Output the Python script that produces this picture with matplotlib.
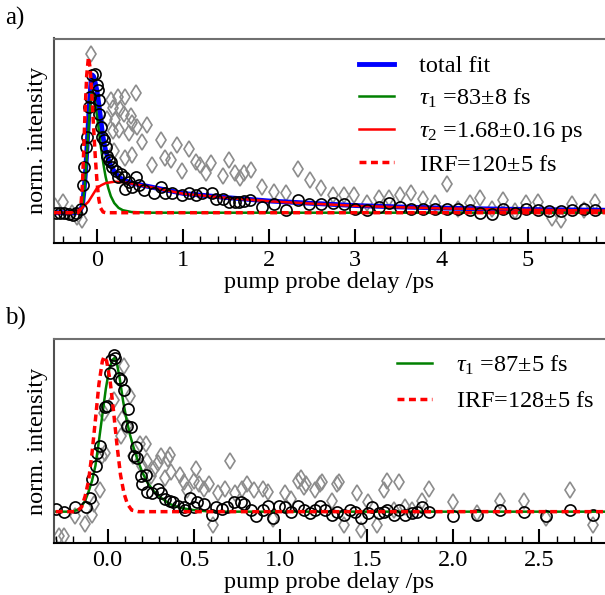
import numpy as np
import matplotlib
matplotlib.use("Agg")
import matplotlib.pyplot as plt
from matplotlib.ticker import MultipleLocator

plt.rcParams['font.family'] = ['Liberation Serif', 'DejaVu Serif']
plt.rcParams['mathtext.fontset'] = 'custom'
plt.rcParams['mathtext.rm'] = 'Liberation Serif'
plt.rcParams['mathtext.it'] = 'Liberation Serif:italic'
plt.rcParams['font.size'] = 17.5

# ---------------- panel a data ----------------
a_circ_x = [-0.48, -0.43, -0.38, -0.33, -0.28, -0.24, -0.185, -0.163, -0.151, -0.124,
            -0.116, -0.093, -0.085, -0.055, -0.023, 0.0, 0.01, 0.02, 0.025, 0.043,
            0.06, 0.08, 0.1, 0.12, 0.14, 0.16, 0.178, 0.22, 0.24, 0.28,
            0.31, 0.33, 0.37, 0.41, 0.457, 0.49, 0.547, 0.66, 0.74, 0.79,
            0.876, 0.99, 1.07, 1.15, 1.22, 1.34, 1.38, 1.46, 1.535, 1.6,
            1.65, 1.71, 1.78, 1.92, 2.05, 2.19, 2.33, 2.46, 2.6, 2.74,
            2.87, 3.0, 3.14, 3.27, 3.39, 3.52, 3.65, 3.79, 3.92, 4.06,
            4.19, 4.33, 4.45, 4.59, 4.72, 4.86, 4.98, 5.12, 5.25, 5.39,
            5.52, 5.66, 5.78]
a_circ_y = [0.0, 0.0, 0.0, -0.01, -0.02, 0.0, 0.03, 0.2, 0.33, 0.48,
            0.55, 0.77, 0.84, 1.0, 1.01, 0.93, 0.89, 0.82, 0.72, 0.62,
            0.55, 0.53, 0.48, 0.41, 0.38, 0.37, 0.33, 0.3, 0.26, 0.28,
            0.26, 0.17, 0.225, 0.19, 0.26, 0.2, 0.165, 0.14, 0.19, 0.14,
            0.14, 0.13, 0.14, 0.13, 0.14, 0.14, 0.1, 0.1, 0.08, 0.08,
            0.08, 0.085, 0.09, 0.045, 0.065, 0.02, 0.09, 0.065, 0.06, 0.07,
            0.06, 0.03, 0.02, 0.045, 0.07, 0.04, 0.03, 0.025, 0.03, 0.025,
            0.03, 0.02, 0.0, -0.01, 0.03, -0.005, 0.025, 0.02, 0.015, 0.01,
            0.02, 0.025, 0.02]

a_diam_x = [-0.49, -0.4, -0.29, -0.23, -0.17, -0.07, 0.12, 0.16, 0.18, 0.18,
            0.2, 0.21, 0.24, 0.26, 0.27, 0.31, 0.33, 0.33, 0.37, 0.39,
            0.41, 0.41, 0.45, 0.46, 0.52, 0.585, 0.64, 0.74, 0.79, 0.86,
            0.93, 0.99, 1.07, 1.15, 1.2, 1.26, 1.32, 1.46, 1.535, 1.6,
            1.66, 1.71, 1.79, 1.92, 2.05, 2.19, 2.33, 2.47, 2.6, 2.74,
            2.87, 2.98, 3.14, 3.27, 3.39, 3.52, 3.65, 3.79, 3.92, 4.07,
            4.19, 4.33, 4.45, 4.59, 4.72, 4.86, 4.98, 5.12, 5.28, 5.39,
            5.52, 5.66, 5.78]
a_diam_y = [0.05, 0.08, 0.0, -0.03, -0.05, 1.15, 0.68, 0.82, 0.76, 0.59,
            0.45, 0.67, 0.84, 0.6, 0.75, 0.72, 0.84, 0.4, 0.58, 0.7,
            0.65, 0.42, 0.87, 0.62, 0.51, 0.64, 0.35, 0.53, 0.4, 0.38,
            0.49, 0.3, 0.46, 0.37, 0.35, 0.29, 0.36, 0.27, 0.38, 0.29,
            0.25, 0.29, 0.31, 0.19, 0.15, 0.14, 0.32, 0.24, 0.18, 0.13,
            0.13, 0.13, 0.07, 0.11, 0.11, 0.13, 0.14, 0.1, 0.07, 0.21,
            0.03, 0.07, 0.11, 0.03, 0.09, 0.01, 0.07, 0.08, -0.04, -0.05,
            0.06, 0.02, 0.08]

a_fit_x = [-0.5, -0.25, -0.2, -0.17, -0.15, -0.13, -0.11, -0.09, -0.07, -0.055,
           -0.04, -0.02, 0.0, 0.02, 0.04, 0.06, 0.08, 0.1, 0.13, 0.16,
           0.2, 0.25, 0.3, 0.4, 0.6, 0.8, 1.0, 1.5, 2.0, 2.5,
           3.0, 3.5, 4.0, 4.5, 5.0, 5.5, 5.9]
a_fit_y = [0.0, 0.0, 0.01, 0.05, 0.17, 0.33, 0.55, 0.78, 0.95, 1.0,
           0.99, 0.94, 0.88, 0.79, 0.69, 0.59, 0.51, 0.45, 0.39, 0.34,
           0.3, 0.26, 0.24, 0.215, 0.19, 0.165, 0.14, 0.11, 0.085, 0.068,
           0.052, 0.042, 0.034, 0.028, 0.023, 0.02, 0.018]

a_tau1_x = [-0.5, -0.2, -0.17, -0.15, -0.13, -0.11, -0.09, -0.07, -0.055, -0.04,
            -0.02, 0.0, 0.02, 0.04, 0.06, 0.08, 0.1, 0.13, 0.16, 0.2,
            0.25, 0.3, 0.4, 0.6, 5.9]
a_tau1_y = [0.0, 0.0, 0.04, 0.15, 0.3, 0.5, 0.7, 0.84, 0.88, 0.86,
            0.79, 0.7, 0.6, 0.5, 0.41, 0.33, 0.26, 0.18, 0.12, 0.07,
            0.035, 0.018, 0.005, 0.0, 0.0]

a_tau2_x = [-0.5, -0.3, -0.2, -0.1, -0.05, 0.0, 0.05, 0.1, 0.2, 0.3,
            0.4, 0.6, 0.8, 1.0, 1.5, 2.0, 2.5, 3.0, 3.5, 4.0,
            4.5, 5.0, 5.5, 5.9]
a_tau2_y = [0.0, 0.0, 0.02, 0.08, 0.13, 0.18, 0.2, 0.215, 0.225, 0.222,
            0.212, 0.188, 0.163, 0.138, 0.108, 0.083, 0.066, 0.05, 0.04, 0.032,
            0.026, 0.021, 0.018, 0.016]

a_irf_x = [-0.5, -0.22, -0.19, -0.17, -0.155, -0.14, -0.12, -0.1, -0.08, -0.06,
           -0.04, -0.02, 0.0, 0.02, 0.04, 0.07, 0.1, 5.9]
a_irf_y = [0.0, 0.0, 0.03, 0.2, 0.45, 0.72, 1.0, 1.13, 1.05, 0.85,
           0.62, 0.4, 0.22, 0.1, 0.035, 0.005, 0.0, 0.0]

# ---------------- panel b data ----------------
b_circ_x = [-0.3, -0.253, -0.191, -0.122, -0.102, -0.089, -0.069, -0.06, -0.045, -0.012,
            -0.002, 0.013, 0.021, 0.037, 0.046, 0.066, 0.075, 0.094, 0.11, 0.118,
            0.133, 0.152, 0.162, 0.17, 0.191, 0.2, 0.22, 0.23, 0.26, 0.29,
            0.31, 0.33, 0.36, 0.38, 0.41, 0.44, 0.45, 0.48, 0.5, 0.52,
            0.56, 0.606, 0.63, 0.66, 0.69, 0.73, 0.77, 0.79, 0.83, 0.86,
            0.9, 0.93, 0.96, 0.99, 1.03, 1.06, 1.1, 1.14, 1.17, 1.2,
            1.23, 1.26, 1.3, 1.33, 1.37, 1.405, 1.435, 1.47, 1.51, 1.53,
            1.57, 1.6, 1.62, 1.66, 1.69, 1.72, 1.76, 1.79, 1.82, 1.86,
            2.0, 2.14, 2.27, 2.41, 2.54, 2.68, 2.81]
b_circ_y = [0.02, 0.0, 0.03, 0.03, 0.09, 0.21, 0.3, 0.38, 0.43, 0.68,
            0.69, 0.9, 0.99, 1.02, 1.0, 0.87, 0.86, 0.79, 0.56, 0.67,
            0.55, 0.36, 0.42, 0.35, 0.23, 0.18, 0.24, 0.13, 0.12, 0.15,
            0.12, 0.08, 0.07, 0.06, 0.04, 0.03, 0.01, 0.09, 0.03, 0.06,
            0.05, -0.02, 0.03, 0.02, 0.03, 0.06, 0.06, 0.05, 0.01, -0.03,
            0.01, 0.04, -0.04, 0.04, 0.03, 0.0, 0.04, 0.01, -0.01, 0.01,
            0.04, 0.01, -0.02, 0.0, -0.02, 0.01, 0.0, -0.04, -0.01, 0.03,
            -0.01, 0.0, 0.01, -0.02, 0.01, -0.02, -0.01, 0.0, 0.03, 0.0,
            -0.03, -0.02, 0.01, 0.0, -0.03, 0.01, -0.02]

b_diam_x = [-0.28, -0.25, -0.19, -0.13, -0.09, -0.08, -0.045, -0.03, -0.02, -0.012,
            0.04, 0.075, 0.084, 0.094, 0.11, 0.13, 0.15, 0.19, 0.2, 0.22,
            0.23, 0.25, 0.27, 0.29, 0.31, 0.33, 0.35, 0.36, 0.37, 0.42,
            0.44, 0.46, 0.5, 0.51, 0.53, 0.56, 0.59, 0.61, 0.64, 0.68,
            0.71, 0.74, 0.78, 0.81, 0.85, 0.9, 0.93, 0.96, 1.03, 1.06,
            1.1, 1.12, 1.14, 1.15, 1.2, 1.23, 1.24, 1.3, 1.33, 1.34,
            1.37, 1.445, 1.47, 1.51, 1.56, 1.6, 1.62, 1.66, 1.69, 1.72,
            1.76, 1.82, 1.86, 2.0, 2.14, 2.27, 2.41, 2.54, 2.68, 2.81]
b_diam_y = [-0.16, -0.16, -0.03, -0.08, -0.02, 0.05, 0.14, 0.36, 0.64, 0.38,
            0.73, 0.49, 0.6, 0.95, 0.56, 0.75, 0.36, 0.44, 0.3, 0.44,
            0.33, 0.23, 0.28, 0.32, 0.36, 0.22, 0.34, 0.37, 0.26, 0.24,
            0.19, 0.14, 0.2, 0.28, 0.18, 0.15, 0.18, -0.09, 0.12, 0.15,
            0.33, 0.12, 0.15, 0.18, 0.14, 0.15, 0.13, -0.05, 0.12, 0.08,
            0.2, 0.22, 0.16, 0.18, 0.14, 0.18, 0.19, 0.07, 0.18, 0.19,
            -0.09, 0.12, -0.12, 0.06, -0.09, 0.14, 0.2, 0.01, 0.19, 0.03,
            0.01, 0.07, 0.15, 0.06, -0.01, 0.07, 0.07, -0.04, 0.14, -0.09]

b_tau1_x = [-0.3, -0.2, -0.16, -0.13, -0.11, -0.09, -0.07, -0.05, -0.03, -0.01,
            0.01, 0.03, 0.04, 0.055, 0.07, 0.09, 0.11, 0.13, 0.15, 0.17,
            0.2, 0.23, 0.27, 0.31, 0.36, 0.42, 0.5, 0.6, 2.88]
b_tau1_y = [0.0, 0.0, 0.02, 0.07, 0.13, 0.2, 0.3, 0.46, 0.63, 0.8,
            0.93, 0.99, 1.0, 0.96, 0.87, 0.72, 0.6, 0.5, 0.42, 0.35,
            0.26, 0.19, 0.13, 0.09, 0.05, 0.025, 0.01, 0.0, 0.0]

b_irf_x = [-0.3, -0.18, -0.15, -0.13, -0.11, -0.09, -0.07, -0.05, -0.03, -0.02,
           -0.005, 0.015, 0.035, 0.055, 0.075, 0.095, 0.115, 0.14, 0.18, 2.88]
b_irf_y = [0.0, 0.0, 0.03, 0.1, 0.2, 0.38, 0.6, 0.83, 0.98, 1.01,
           0.98, 0.85, 0.65, 0.43, 0.24, 0.12, 0.05, 0.01, 0.0, 0.0]

fig = plt.figure(figsize=(6.05, 5.95), dpi=100)
ax1 = fig.add_axes([54/605, 1 - 243/595, 1 - 54/605, (243 - 38.5)/595])
ax2 = fig.add_axes([54/605, 1 - 543/595, 1 - 54/605, (543 - 339)/595])

diam_kw = dict(ls='none', marker='d', ms=8, mfc='none', mec='#8c8c8c', mew=1.2, zorder=1)
circ_kw = dict(ls='none', marker='o', ms=8, mfc='none', mec='black', mew=1.2, zorder=3)

ax1.plot(a_diam_x, a_diam_y, **diam_kw)
ax1.plot(a_fit_x, a_fit_y, color='#0000ff', lw=3.5, label='total fit', zorder=2)
ax1.plot(a_tau1_x, a_tau1_y, color='green', lw=1.8, label=r'$\tau_1$ =83$\pm$8 fs', zorder=2)
ax1.plot(a_tau2_x, a_tau2_y, color='red', lw=1.8, label=r'$\tau_2$ =1.68$\pm$0.16 ps', zorder=2)
ax1.plot(a_circ_x, a_circ_y, **circ_kw)
ax1.plot(a_irf_x, a_irf_y, color='red', lw=2.5, ls=(0, (2, 1.3)), label=r'IRF=120$\pm$5 fs', zorder=4)
ax1.set_xlim(-0.5, 5.9)
ax1.set_ylim(-0.22, 1.265)
ax1.xaxis.set_major_locator(MultipleLocator(1))
ax1.xaxis.set_minor_locator(MultipleLocator(0.2))

ax2.plot(b_diam_x, b_diam_y, **diam_kw)
ax2.plot(b_tau1_x, b_tau1_y, color='green', lw=1.8, label=r'$\tau_1$ =87$\pm$5 fs', zorder=2)
ax2.plot(b_circ_x, b_circ_y, **circ_kw)
ax2.plot(b_irf_x, b_irf_y, color='red', lw=2.5, ls=(0, (2, 1.3)), label=r'IRF=128$\pm$5 fs', zorder=4)
ax2.set_xlim(-0.31, 2.88)
ax2.set_ylim(-0.204, 1.124)
ax2.xaxis.set_major_locator(MultipleLocator(0.5))
ax2.xaxis.set_minor_locator(MultipleLocator(0.1))

for ax in (ax1, ax2):
    ax.set_yticks([])
    ax.tick_params(axis='x', which='major', direction='in', length=10, width=1.5, pad=5)
    ax.tick_params(axis='x', which='minor', direction='in', length=5, width=1.0)
    ax.spines['right'].set_visible(False)
    ax.spines['top'].set_color('#707070')
    ax.spines['left'].set_color('#505050')
    ax.spines['bottom'].set_color('black')
    for s in ('top', 'left', 'bottom'):
        ax.spines[s].set_linewidth(1.5)
    ax.set_xlabel('pump probe delay /ps', labelpad=1)
    ax.set_ylabel('norm. intensity', labelpad=4)

ax1.legend(loc='upper right', frameon=False, handlelength=1.45, labelspacing=0.4,
           handletextpad=1.0, bbox_to_anchor=(1.0, 1.025))
ax2.legend(loc='upper right', frameon=False, handlelength=1.45, labelspacing=0.55,
           handletextpad=1.0, bbox_to_anchor=(1.02, 1.035))

fig.text(5/605, 1 - 7/595, 'a)', ha='left', va='top', fontsize=18)
fig.text(5/605, 1 - 307/595, 'b)', ha='left', va='top', fontsize=18)

fig.savefig('out.png', dpi=100)
